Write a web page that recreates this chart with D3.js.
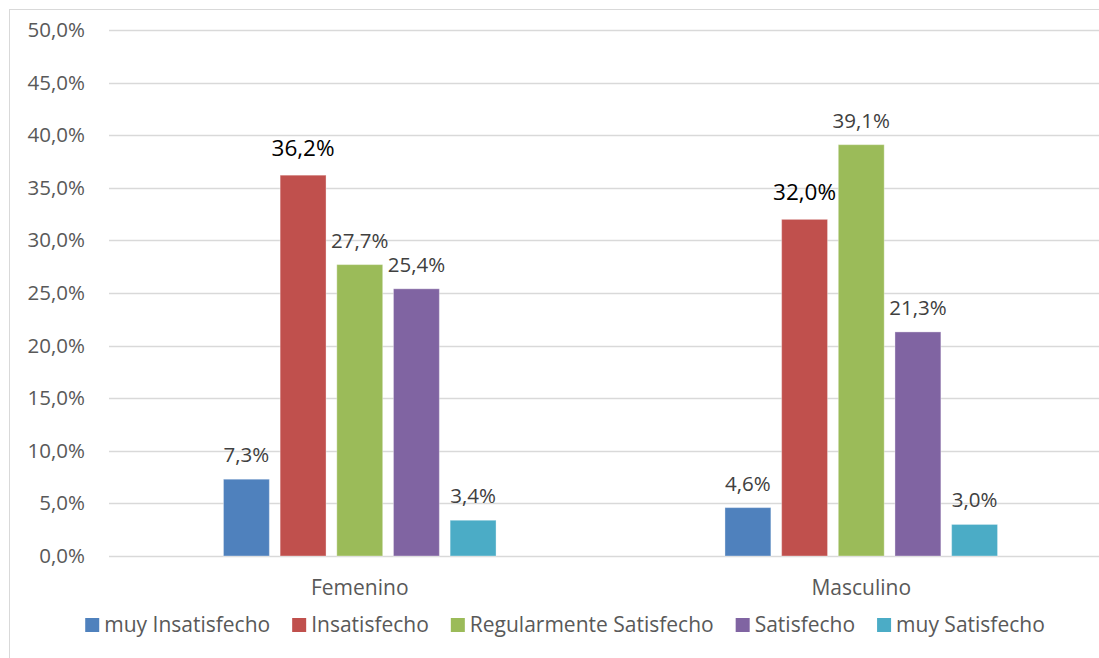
<!DOCTYPE html>
<html>
<head>
<meta charset="utf-8">
<script src="https://cdn.jsdelivr.net/npm/d3@7"></script>
<style>
  body { margin: 0; background: #fff; }
  text { font-family: "Open Sans", "Noto Sans", sans-serif; }
</style>
</head>
<body>
<script>
// chart data
const categories = ["Femenino", "Masculino"];
const series = ["muy Insatisfecho", "Insatisfecho", "Regularmente Satisfecho", "Satisfecho", "muy Satisfecho"];
const femenino = [7.3, 36.2, 27.7, 25.4, 3.4];
const masculino = [4.6, 32.0, 39.1, 21.3, 3.0];
const yTicks = [0, 5, 10, 15, 20, 25, 30, 35, 40, 45, 50];
const colors = ["#4F81BD", "#C0504D", "#9BBB59", "#8064A2", "#4BACC6"];
// labels drawn bigger/black in the original
const bigLabels = [[false, true, false, false, false], [false, true, false, false, false]];

const values = [femenino, masculino];

const w = 1099, h = 658;
const svg = d3.select("body").append("svg")
  .attr("width", w)
  .attr("height", h);

// outer border
svg.append("rect")
  .attr("x", 9.5).attr("y", 9.5)
  .attr("width", 1200).attr("height", 700)
  .attr("fill", "none")
  .attr("stroke", "#D9D9D9");

const plotLeft = 109, plotRight = 1112;
const yScale = d3.scaleLinear().domain([0, 50]).range([556, 30]);

const x0 = d3.scaleBand().domain(categories).range([plotLeft, plotRight]);
const x1 = d3.scaleBand().domain(series).range([0, x0.bandwidth()])
  .paddingInner(0.19).paddingOuter(2.02);

const fmt = v => v.toFixed(1).replace(".", ",") + "%";

// gridlines
svg.append("g").selectAll("line")
  .data(yTicks)
  .enter().append("line")
  .attr("x1", plotLeft).attr("x2", plotRight)
  .attr("y1", d => Math.round(yScale(d)) + 0.5)
  .attr("y2", d => Math.round(yScale(d)) + 0.5)
  .attr("stroke", "#D9D9D9")
  .attr("stroke-width", 1.3);

// y axis labels
svg.append("g").selectAll("text")
  .data(yTicks)
  .enter().append("text")
  .attr("x", 85)
  .attr("y", d => yScale(d) + 7)
  .attr("text-anchor", "end")
  .attr("fill", "#595959")
  .style("font-size", "20.5px")
  .text(d => fmt(d));

// bars
const groups = svg.append("g").selectAll("g")
  .data(categories)
  .enter().append("g")
  .attr("transform", d => `translate(${x0(d)},0)`);

groups.selectAll("rect")
  .data((d, i) => series.map((s, j) => ({ s: s, v: values[i][j], c: colors[j] })))
  .enter().append("rect")
  .attr("x", d => x1(d.s))
  .attr("y", d => yScale(d.v))
  .attr("width", x1.bandwidth())
  .attr("height", d => yScale(0) - yScale(d.v))
  .attr("fill", d => d.c)
  .attr("stroke", "#ffffff")
  .attr("stroke-opacity", 0.35)
  .attr("stroke-width", 1);

groups.selectAll("text")
  .data((d, i) => series.map((s, j) => ({ s: s, v: values[i][j], big: bigLabels[i][j] })))
  .enter().append("text")
  .attr("x", d => x1(d.s) + x1.bandwidth() / 2)
  .attr("y", d => yScale(d.v) - (d.big ? 19 : 17))
  .attr("text-anchor", "middle")
  .attr("fill", d => d.big ? "#000000" : "#404040")
  .style("font-size", d => d.big ? "22.5px" : "20.5px")
  .text(d => fmt(d.v));

// category labels
svg.append("g").selectAll("text")
  .data(categories)
  .enter().append("text")
  .attr("x", d => x0(d) + x0.bandwidth() / 2)
  .attr("y", 595)
  .attr("text-anchor", "middle")
  .attr("fill", "#595959")
  .style("font-size", "21px")
  .text(d => d);

// legend
const legend = svg.append("g");
const items = legend.selectAll("g")
  .data(series)
  .enter().append("g");
items.append("rect")
  .attr("width", 14).attr("height", 14)
  .attr("y", 618)
  .attr("fill", (d, i) => colors[i]);
items.append("text")
  .attr("x", 19)
  .attr("y", 632)
  .attr("fill", "#595959")
  .style("font-size", "21px")
  .text(d => d);

let xpos = 0;
const gap = 22;
items.each(function () {
  const tw = d3.select(this).select("text").node().getComputedTextLength();
  d3.select(this).attr("data-w", 19 + tw);
});
const widths = items.nodes().map(n => +n.getAttribute("data-w"));
const total = d3.sum(widths) + gap * (widths.length - 1);
xpos = (87 + 1043) / 2 - total / 2;
items.each(function (d, i) {
  d3.select(this).attr("transform", `translate(${xpos},0)`);
  xpos += widths[i] + gap;
});
</script>
</body>
</html>
